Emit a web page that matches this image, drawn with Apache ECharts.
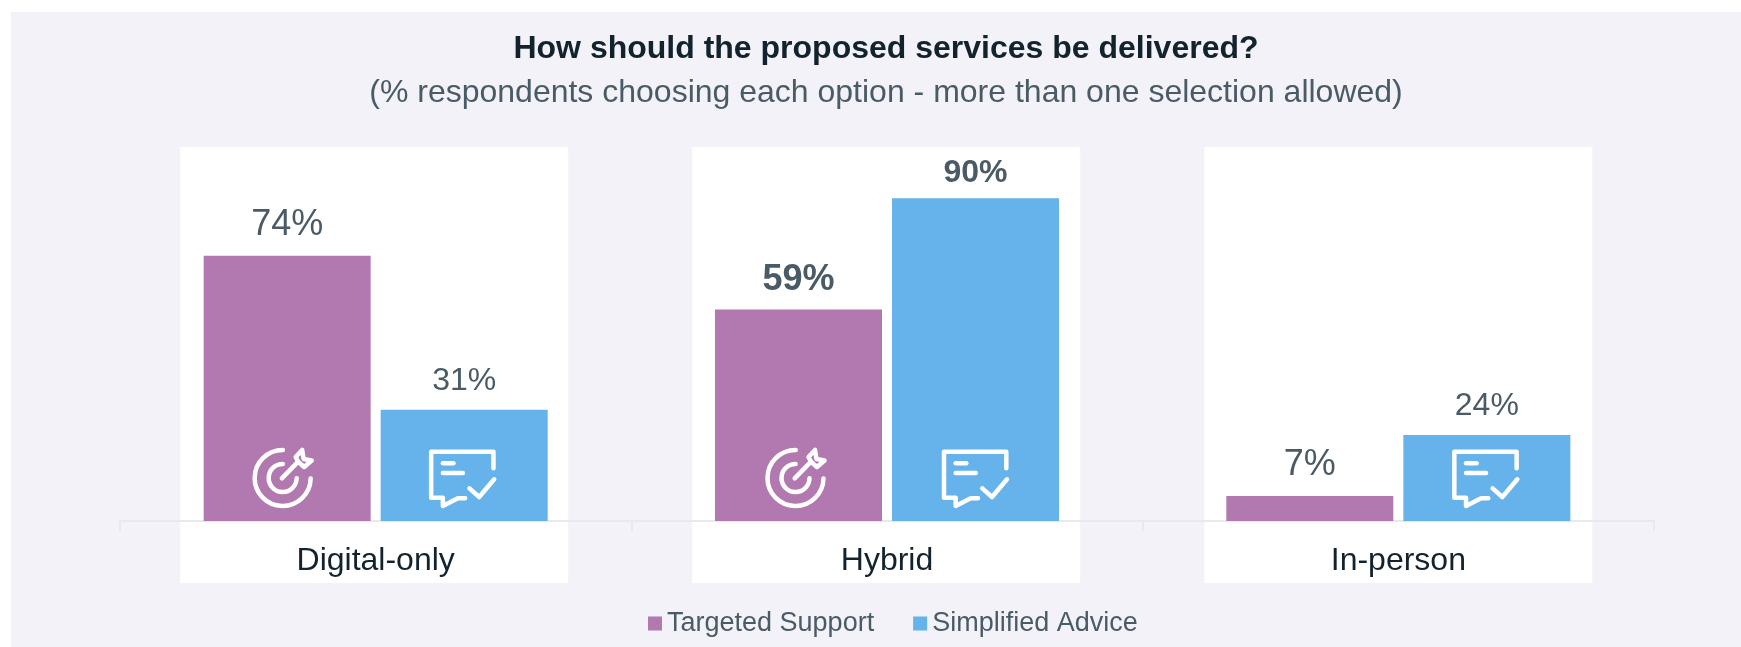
<!DOCTYPE html>
<html>
<head>
<meta charset="utf-8">
<style>
  html, body { margin: 0; padding: 0; background: #fff; }
  #chart { width: 1741px; height: 647px; }
</style>
<script src="https://cdn.jsdelivr.net/npm/echarts@6/dist/echarts.min.js"></script>
</head>
<body>
<div id="chart"></div>
<script>
const categories = ['Digital-only', 'Hybrid', 'In-person'];
const targetedSupport = [74, 59, 7];
const simplifiedAdvice = [31, 90, 24];
const targetedBold = [false, true, false];
const simplifiedBold = [false, true, false];
const titleText = 'How should the proposed services be delivered?';
const subtitleText = '(% respondents choosing each option - more than one selection allowed)';

const FONT = '"Liberation Sans", Arial, sans-serif';
const INK = '#12232e';
const MUTED = '#4a5b66';
const PURPLE = '#b278b0';
const BLUE = '#66b2eb';
const AXIS_BASE = 521;
const PLOT_HEIGHT = 358.5;
const BAR_OFFSET = 88.5;
const CARD_SHIFT = [-1.5, -0.8, 0];
const ICON_SHIFT = [0.5, 2, 1];

// Icon outlines, in pixels relative to the bottom centre of a bar.
const targetIcon = [
  { type: 'arc', shape: { cx: -5, cy: -43, r: 28, startAngle: 0.02, endAngle: 4.72, clockwise: true } },
  { type: 'arc', shape: { cx: -5, cy: -43, r: 14, startAngle: 0.02, endAngle: 4.72, clockwise: true } },
  { type: 'polyline', shape: { points: [[-5.8, -42.7], [10.5, -59.3]] } },
  { type: 'polygon', shape: { points: [[10.5, -59.3], [8, -64], [14.5, -71], [16, -62], [24, -60.5], [16.5, -54]] } }
];
const messageIcon = [
  { type: 'polyline', shape: { points: [[28.8, -52.7], [28.8, -69.3], [-33.5, -69.3], [-33.5, -23.3], [-21.8, -23.3], [-21.8, -15], [-6.8, -22.7], [0.5, -22.7]] } },
  { type: 'polyline', shape: { points: [[-21.8, -57.7], [-11.2, -57.7]] } },
  { type: 'polyline', shape: { points: [[-21.8, -48], [-1.8, -48]] } },
  { type: 'polyline', shape: { points: [[4.8, -32.7], [14.5, -24], [29.5, -41.7]] } }
];

function barData(values, bold, fontSize, distance, boldDistance) {
  return values.map((v, i) => ({
    value: v,
    label: {
      fontSize,
      fontWeight: bold[i] ? 'bold' : 'normal',
      distance: bold[i] ? boldDistance : distance
    }
  }));
}

// White card behind each category, running from above the bars down past its label.
function renderCard(params, api) {
  const i = api.value(0);
  const x = api.coord([i, 0])[0] + CARD_SHIFT[i];
  return {
    type: 'rect',
    shape: { x: x - 194, y: 147, width: 388, height: 436 },
    style: { fill: '#ffffff' }
  };
}

function iconSeries(name, values, parts, offset) {
  return {
    type: 'custom',
    name,
    coordinateSystem: 'cartesian2d',
    z: 5,
    silent: true,
    clip: false,
    data: categories.map((c, i) => [i, values[i]]),
    renderItem(params, api) {
      // Bars too short to hold the icon stay empty.
      if (api.value(1) < 20) return null;
      const i = api.value(0);
      const p = api.coord([i, 0]);
      return {
        type: 'group',
        x: p[0] + offset + ICON_SHIFT[i],
        y: p[1],
        children: parts.map((part) => ({
          type: part.type,
          shape: part.shape,
          style: { fill: 'none', stroke: '#ffffff', lineWidth: 4.5, lineCap: 'round', lineJoin: 'round' }
        }))
      };
    }
  };
}

const chart = echarts.init(document.getElementById('chart'), null, { renderer: 'canvas' });
chart.setOption({
  animation: false,
  backgroundColor: '#ffffff',
  textStyle: { fontFamily: FONT },
  graphic: [{
    type: 'rect',
    z: -100,
    silent: true,
    shape: { x: 11, y: 12, width: 1730, height: 635 },
    style: { fill: '#f2f2f8' }
  }],
  title: {
    left: 881,
    top: 28,
    textAlign: 'center',
    text: titleText,
    textStyle: { fontFamily: FONT, fontSize: 32, fontWeight: 'bold', color: INK },
    subtext: subtitleText,
    subtextStyle: { fontFamily: FONT, fontSize: 32, color: MUTED },
    itemGap: 12
  },
  legend: {
    data: ['Targeted Support', 'Simplified Advice'],
    left: 643,
    top: 605,
    itemWidth: 14,
    itemHeight: 14,
    itemGap: 39,
    icon: 'rect',
    textStyle: { fontFamily: FONT, fontSize: 27, color: MUTED }
  },
  grid: { left: 120, right: 87, top: AXIS_BASE - PLOT_HEIGHT, height: PLOT_HEIGHT },
  xAxis: {
    type: 'category',
    data: categories,
    axisLine: { lineStyle: { color: '#e6e9ef', width: 2 } },
    axisTick: { show: true, length: 10, alignWithLabel: false, lineStyle: { color: '#e6e9ef', width: 2 } },
    axisLabel: { fontFamily: FONT, fontSize: 32, color: INK, margin: 24 }
  },
  yAxis: { type: 'value', min: 0, max: 100, show: false, splitLine: { show: false } },
  series: [
    {
      type: 'custom',
      name: 'cards',
      z: -10,
      silent: true,
      clip: false,
      data: categories.map((c, i) => [i, 0]),
      renderItem: renderCard
    },
    {
      type: 'bar',
      name: 'Targeted Support',
      barWidth: 167,
      barGap: '6%',
      itemStyle: { color: PURPLE },
      label: { show: true, position: 'top', color: MUTED, formatter: '{c}%', fontFamily: FONT },
      data: barData(targetedSupport, targetedBold, 36, 13, 11)
    },
    {
      type: 'bar',
      name: 'Simplified Advice',
      barWidth: 167,
      barGap: '6%',
      itemStyle: { color: BLUE },
      label: { show: true, position: 'top', color: MUTED, formatter: '{c}%', fontFamily: FONT },
      data: barData(simplifiedAdvice, simplifiedBold, 32, 13, 9)
    },
    iconSeries('target icons', targetedSupport, targetIcon, -BAR_OFFSET),
    iconSeries('message icons', simplifiedAdvice, messageIcon, BAR_OFFSET)
  ]
});
</script>
</body>
</html>
